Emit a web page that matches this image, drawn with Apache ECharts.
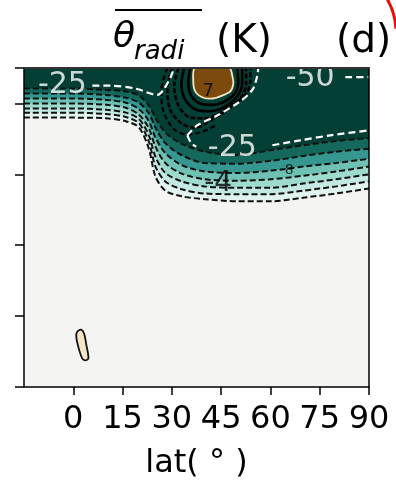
<!DOCTYPE html>
<html>
<head>
    <meta charset="utf-8">
    <script src="https://cdn.jsdelivr.net/npm/echarts@6/dist/echarts.min.js"></script>
</head>
<body>
    <div id="chart"></div>
</body>
<style>
    body {
        margin: 0;
        background: #fff;
    }

    #chart {
        width: 396px;
        height: 485px;
    }
</style>
<script>
    const chart = echarts.init(document.getElementById('chart'));

    // latitude columns used to trace the filled contour edges
    const lats = [-15, 0, 10, 16, 20, 23, 25, 28, 33, 40, 50, 60, 70, 80, 90];
    // contour edges (height), outermost first, innermost = edge of the dark region
    const lev0 = [38.0, 38.0, 37.9, 37.5, 36.6, 33.6, 29.7, 27.7, 26.9, 26.5, 26.2, 26.2, 26.7, 27.3, 28.0];
    const lev1 = [38.7, 38.7, 38.5, 38.1, 37.2, 34.6, 31.1, 29.0, 27.9, 27.3, 27.2, 27.2, 27.7, 28.3, 29.0];
    const lev2 = [39.3, 39.3, 39.1, 38.7, 37.8, 35.5, 32.5, 30.2, 29.0, 28.3, 28.1, 28.1, 28.7, 29.3, 30.0];
    const lev3 = [40.0, 40.0, 39.8, 39.4, 38.4, 36.5, 33.9, 31.6, 30.1, 29.3, 29.1, 29.3, 29.8, 30.4, 31.1];
    const lev4 = [40.7, 40.7, 40.5, 40.1, 39.2, 37.5, 35.2, 33.0, 31.3, 30.4, 30.2, 30.5, 31.1, 31.6, 32.2];
    const lev5 = [41.4, 41.4, 41.2, 40.8, 40.1, 38.6, 36.6, 34.4, 32.7, 31.6, 31.5, 31.9, 32.6, 33.2, 33.6];
    const lev6 = [42.1, 42.1, 41.9, 41.7, 41.1, 39.7, 38.0, 35.9, 34.3, 33.2, 32.7, 33.4, 34.1, 34.7, 35.1];

    // positive core near the top
    const brownBlob = [[37.1, 45], [36.5, 43.3], [37.1, 41.7], [39.6, 40.8], [42.6, 40.7], [45.3, 41.1], [47.8, 41.7], [48.7, 42.8], [48.4, 43.9], [47.5, 45]];
    const ring1 = [[35.6, 45], [35.0, 43.0], [35.9, 41.1], [38.6, 40.0], [42.6, 39.8], [46.6, 40.4], [49.3, 41.5], [50.2, 43.0], [49.9, 45]];
    const ring2 = [[33.8, 45], [32.9, 42.8], [34.1, 40.5], [37.4, 39.1], [41.7, 38.9], [46.3, 39.6], [49.9, 41.0], [51.4, 42.8], [51.4, 45]];
    const ring3 = [[32.0, 45], [30.7, 42.5], [32.0, 39.7], [35.6, 38.0], [40.2, 37.9], [45.3, 38.9], [50.8, 40.7], [52.6, 42.8], [52.6, 45]];
    const ring4 = [[30.1, 45], [28.6, 42.2], [29.5, 39.1], [33.2, 37.1], [37.1, 36.6], [41.7, 37.6], [47.8, 39.4], [52.6, 41.4], [53.9, 43.3], [53.9, 45]];
    const ring5 = [[28.6, 45], [26.8, 41.8], [27.4, 38.9], [30.4, 36.5], [34.4, 35.6], [38.6, 35.9], [43.5, 36.9]];

    // small positive patch low down
    const creamBlob = [[1.2, 7.8], [2.4, 8.08], [3.3, 7.52], [3.96, 5.99], [4.6, 4.04], [3.65, 3.76], [2.7, 4.04], [1.5, 5.71], [0.9, 7.1]];

    // white dashed contours inside the dark region
    const white25a = [[5.8, 42.5], [11.3, 42.5], [18.9, 42.1], [25.6, 41.2], [27.4, 41.9], [29.5, 43.6], [30.7, 45]];
    const white25b = [[34.7, 35.5], [37.7, 36.9], [43.8, 38.3], [50.8, 40.3], [54.5, 41.9], [56.0, 43.9], [56.3, 45]];
    const white25c = [[34.7, 35.5], [35.9, 34.4], [37.4, 33.9]];
    const white25d = [[60.6, 34.1], [69.1, 34.8], [78.2, 35.5], [90, 36.2]];
    const white50 = [[82.8, 43.7], [90, 43.7]];

    // contour labels
    const whiteLabels = [[-3.3, 42.6, '-25'], [72.1, 43.5, '-50'], [48.4, 33.7, '-25']];
    const blackLabels = [[44.1, 28.7, '-4', 28], [41.1, 41.7, '7', 18], [65.7, 30.5, '8', 14]];

    const latTicks = [0, 15, 30, 45, 60, 75, 90];

    const fills = ['#e0f3ef', '#c4e9e2', '#9fdacf', '#6fc2b3', '#35978f', '#14695c', '#033f34'];
    const levels = [lev0, lev1, lev2, lev3, lev4, lev5, lev6];

    let series = levels.map((lv, i) => ({
        type: 'line',
        z: 2,
        data: lats.map((x, j) => [x, lv[j]]),
        symbol: 'none',
        smooth: 0.3,
        areaStyle: { origin: 'end', color: fills[i], opacity: 1 },
        lineStyle: { color: '#111', width: 2, type: [6, 3] },
        silent: true
    }))

    const polygon = (pts, fill, stroke) => ({
        type: 'custom',
        z: 4,
        clip: true,
        data: pts,
        encode: { x: 0, y: 1 },
        silent: true,
        renderItem: (params, api) => {
            if (params.dataIndex !== 0) return;
            return {
                type: 'polygon',
                shape: { points: pts.map(p => api.coord(p)), smooth: 0.3 },
                style: { fill: fill, stroke: stroke, lineWidth: 1.8 }
            }
        }
    })

    series.push(polygon(brownBlob, '#7b4a0c', '#f3e6c4'))

    const ringLine = (pts, dash, w) => ({
        type: 'line',
        z: 5,
        data: pts,
        symbol: 'none',
        smooth: 0.3,
        lineStyle: { color: '#000', width: w, type: dash },
        silent: true
    })
    series.push(ringLine(ring1, 'solid', 2.6))
    series.push(ringLine(ring2, 'solid', 2.6))
    series.push(ringLine(ring3, [5, 2], 2.6))
    series.push(ringLine(ring4, [5, 2], 2.6))
    series.push(ringLine(ring5, [5, 3], 2.2))

    series.push(polygon(creamBlob, '#f3e6c6', '#111'))

    const whiteLine = (pts) => ({
        type: 'line',
        z: 6,
        data: pts,
        symbol: 'none',
        smooth: 0.3,
        lineStyle: { color: '#fff', width: 2.2, type: [7, 4] },
        silent: true
    })
    ;[white25a, white25b, white25c, white25d, white50].forEach(p => series.push(whiteLine(p)))

    series.push({
        type: 'scatter',
        z: 7,
        symbolSize: 1,
        itemStyle: { color: 'transparent' },
        data: whiteLabels.map(d => ({ value: [d[0], d[1]], name: d[2] })),
        label: {
            show: true,
            position: 'inside',
            formatter: p => p.name,
            color: '#fff',
            fontSize: 30,
            fontFamily: 'DejaVu Sans'
        },
        silent: true
    })
    series.push({
        type: 'scatter',
        z: 7,
        symbolSize: 1,
        itemStyle: { color: 'transparent' },
        data: blackLabels.map(d => ({
            value: [d[0], d[1]], name: d[2],
            label: { fontSize: d[3] }
        })),
        label: {
            show: true,
            position: 'inside',
            formatter: p => p.name,
            color: '#000',
            fontFamily: 'DejaVu Sans'
        },
        silent: true
    })

    const option = {
        animation: false,
        grid: {
            left: 24,
            right: 27,
            top: 68,
            bottom: 94,
            show: true,
            backgroundColor: '#f4f4f2',
            borderWidth: 0
        },
        xAxis: [
            {
                type: 'value',
                min: -15,
                max: 90,
                interval: 15,
                z: 10,
                axisLine: { onZero: false, lineStyle: { color: '#000', width: 1.5 } },
                axisTick: { customValues: latTicks, length: 8, lineStyle: { color: '#000', width: 1.5 } },
                axisLabel: {
                    customValues: latTicks,
                    color: '#000',
                    fontSize: 32,
                    margin: 17,
                    fontFamily: 'DejaVu Sans'
                },
                splitLine: { show: false },
                name: 'lat( ° )',
                nameLocation: 'middle',
                nameGap: 61,
                nameTextStyle: { color: '#000', fontSize: 32, fontFamily: 'DejaVu Sans' }
            },
            {
                type: 'value',
                position: 'top',
                min: -15,
                max: 90,
                z: 10,
                axisLine: { onZero: false, lineStyle: { color: '#333', width: 2 } },
                axisTick: { show: false },
                axisLabel: { show: false },
                splitLine: { show: false }
            }
        ],
        yAxis: [
            {
                type: 'value',
                min: 0,
                max: 45,
                interval: 10,
                z: 10,
                axisLine: { show: true, onZero: false, lineStyle: { color: '#000', width: 1.5 } },
                axisTick: { show: true, length: 9, lineStyle: { color: '#000', width: 1.5 } },
                axisLabel: { show: false },
                splitLine: { show: false }
            },
            {
                type: 'value',
                position: 'right',
                min: 0,
                max: 45,
                z: 10,
                axisLine: { show: true, onZero: false, lineStyle: { color: '#000', width: 1.5 } },
                axisTick: { show: false },
                axisLabel: { show: false },
                splitLine: { show: false }
            }
        ],
        graphic: [
            { type: 'line', shape: { x1: 115, y1: 10, x2: 202, y2: 10 }, style: { stroke: '#000', lineWidth: 2 } },
            { type: 'text', x: 113, y: 38, style: { text: 'θ', font: 'italic 36px "DejaVu Sans"', fill: '#000', verticalAlign: 'middle' } },
            { type: 'text', x: 134, y: 52, style: { text: 'radi', font: 'italic 26px "DejaVu Sans"', fill: '#000', verticalAlign: 'middle' } },
            { type: 'text', x: 216, y: 42, style: { text: '(K)', font: '39px "DejaVu Sans"', fill: '#000', verticalAlign: 'middle' } },
            { type: 'text', x: 336, y: 42, style: { text: '(d)', font: '39px "DejaVu Sans"', fill: '#000', verticalAlign: 'middle' } },
            {
                type: 'arc',
                shape: { cx: 330, cy: 32, r: 66, startAngle: -0.6, endAngle: -0.05, clockwise: true },
                style: { stroke: '#e8100c', lineWidth: 3, fill: null }
            }
        ],
        series
    }
    chart.setOption(option)
</script>

</html>
